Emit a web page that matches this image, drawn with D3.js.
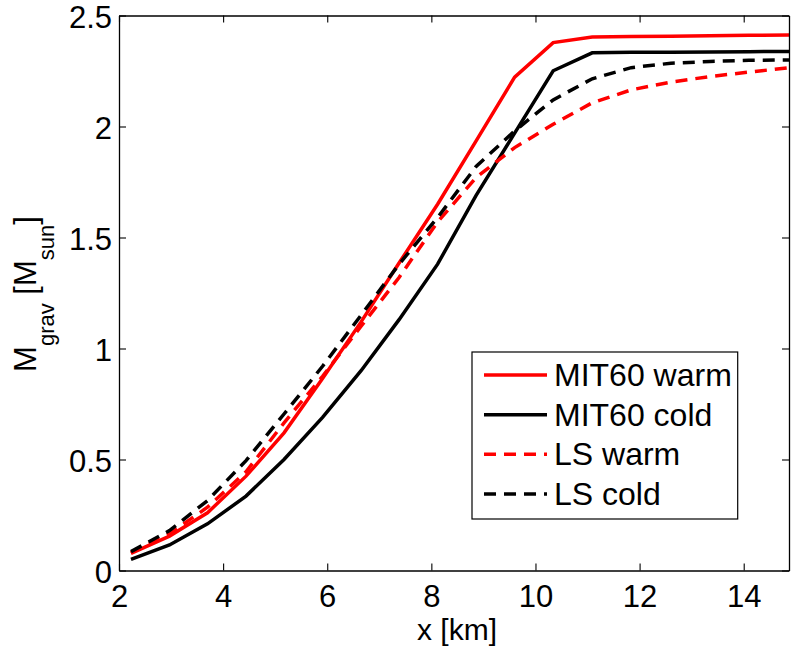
<!DOCTYPE html>
<html>
<head>
<meta charset="utf-8">
<script src="https://cdn.jsdelivr.net/npm/d3@7"></script>
<style>
  html, body { margin: 0; padding: 0; background: #fff; }
  svg { display: block; font-family: "Liberation Sans", Arial, Helvetica, sans-serif; }
</style>
</head>
<body>
<svg id="chart" width="791" height="649"></svg>
<script>
// ---- data ----
const xKm      = [2.23, 2.97, 3.70, 4.44, 5.17, 5.91, 6.65, 7.38, 8.12, 8.86, 9.60, 10.34, 11.09, 11.84, 12.60, 13.35, 14.10, 14.87];
const mitWarm  = [0.077, 0.155, 0.26, 0.425, 0.62, 0.865, 1.12, 1.385, 1.65, 1.935, 2.222, 2.378, 2.403, 2.405, 2.407, 2.409, 2.411, 2.412];
const mitCold  = [0.05, 0.115, 0.21, 0.335, 0.50, 0.69, 0.90, 1.13, 1.38, 1.69, 1.97, 2.251, 2.332, 2.334, 2.335, 2.336, 2.337, 2.338];
const lsWarm   = [0.08, 0.165, 0.285, 0.445, 0.665, 0.875, 1.10, 1.32, 1.57, 1.77, 1.905, 2.01, 2.107, 2.165, 2.20, 2.225, 2.245, 2.265];
const lsCold   = [0.085, 0.18, 0.315, 0.495, 0.705, 0.92, 1.15, 1.38, 1.59, 1.82, 1.98, 2.12, 2.215, 2.265, 2.285, 2.293, 2.298, 2.30];
const seriesNames = ["MIT60 warm", "MIT60 cold", "LS warm", "LS cold"];
const xTicks = [2, 4, 6, 8, 10, 12, 14];
const yTicks = [0, 0.5, 1, 1.5, 2, 2.5];
const xDomain = [2, 14.87];
const yDomain = [0, 2.5];

const series = [
  { name: seriesNames[0], values: mitWarm, color: "#ff0000", dash: null },
  { name: seriesNames[1], values: mitCold, color: "#000000", dash: null },
  { name: seriesNames[2], values: lsWarm,  color: "#ff0000", dash: "12,8" },
  { name: seriesNames[3], values: lsCold,  color: "#000000", dash: "12,8" }
];

// ---- layout ----
const L = 119, R = 789, T = 15.5, B = 570.5;
const svg = d3.select("#chart");
const x = d3.scaleLinear().domain(xDomain).range([L, R]);
const y = d3.scaleLinear().domain(yDomain).range([B, T]);
const FS = 31;

svg.append("defs").append("clipPath").attr("id", "clip")
  .append("rect").attr("x", L).attr("y", T).attr("width", R - L).attr("height", B - T);

// lines
const line = d3.line().x(d => x(d[0])).y(d => y(d[1]));
const g = svg.append("g").attr("clip-path", "url(#clip)");
series.forEach(s => {
  g.append("path")
    .datum(xKm.map((v, i) => [v, s.values[i]]))
    .attr("d", line)
    .attr("fill", "none")
    .attr("stroke", s.color)
    .attr("stroke-width", 3.5)
    .attr("stroke-linejoin", "miter")
    .attr("stroke-dasharray", s.dash);
});

// axes (box with inward ticks on all sides)
const tickLen = 7;
const axStroke = "#000";
const axB = d3.axisBottom(x).tickValues(xTicks).tickSizeInner(-tickLen).tickSizeOuter(0).tickPadding(12);
const axT = d3.axisTop(x).tickValues(xTicks).tickSizeInner(-tickLen).tickSizeOuter(0).tickFormat("");
const axLft = d3.axisLeft(y).tickValues(yTicks).tickSizeInner(-tickLen).tickSizeOuter(0).tickPadding(7).tickFormat(d3.format("~g"));
const axRt = d3.axisRight(y).tickValues(yTicks).tickSizeInner(-tickLen).tickSizeOuter(0).tickFormat("");

function styleAxis(sel) {
  sel.select(".domain").attr("stroke", axStroke).attr("stroke-width", 1.3);
  sel.selectAll(".tick line").attr("stroke", axStroke).attr("stroke-width", 1.1);
  sel.selectAll(".tick text").attr("font-size", FS).attr("fill", "#000")
     .attr("font-family", "'Liberation Sans', Arial, Helvetica, sans-serif");
}
const gb = svg.append("g").attr("transform", `translate(0,${B})`).call(axB).call(styleAxis);
gb.selectAll(".tick text").attr("dy", null).attr("y", 36.5).attr("dominant-baseline", "auto");
svg.append("g").attr("transform", `translate(0,${T})`).call(axT).call(styleAxis);
const gl = svg.append("g").attr("transform", `translate(${L},0)`).call(axLft).call(styleAxis);
gl.selectAll(".tick text").attr("dy", "0.38em");
svg.append("g").attr("transform", `translate(${R},0)`).call(axRt).call(styleAxis);

// x label
svg.append("text")
  .attr("x", (L + R) / 2 + 3).attr("y", 640)
  .attr("text-anchor", "middle").attr("font-size", 30).attr("fill", "#000")
  .text("x [km]");

// y label with subscripts
const yl = svg.append("text")
  .attr("transform", `translate(36,${(T + B) / 2 + 1}) rotate(-90)`)
  .attr("text-anchor", "middle").attr("font-size", FS).attr("fill", "#000");
yl.append("tspan").text("M");
yl.append("tspan").attr("font-size", 22).attr("dy", 18).text("grav");
yl.append("tspan").attr("dy", -18).text(" [M");
yl.append("tspan").attr("font-size", 22).attr("dy", 18).text("sun");
yl.append("tspan").attr("dy", -18).text("]");

// legend
const lg = svg.append("g");
lg.append("rect").attr("x", 472).attr("y", 352).attr("width", 265.7).attr("height", 167)
  .attr("fill", "#fff").attr("stroke", "#000").attr("stroke-width", 1.2);
const rowY = d3.scalePoint().domain(seriesNames).range([375, 494]);
series.forEach(s => {
  const yy = rowY(s.name);
  lg.append("line").attr("x1", 484).attr("x2", 547).attr("y1", yy).attr("y2", yy)
    .attr("stroke", s.color).attr("stroke-width", 3.5).attr("stroke-dasharray", s.dash);
  lg.append("text").attr("x", 554).attr("y", yy + 11)
    .attr("font-size", 32).attr("fill", "#000").text(s.name);
});
</script>
</body>
</html>
